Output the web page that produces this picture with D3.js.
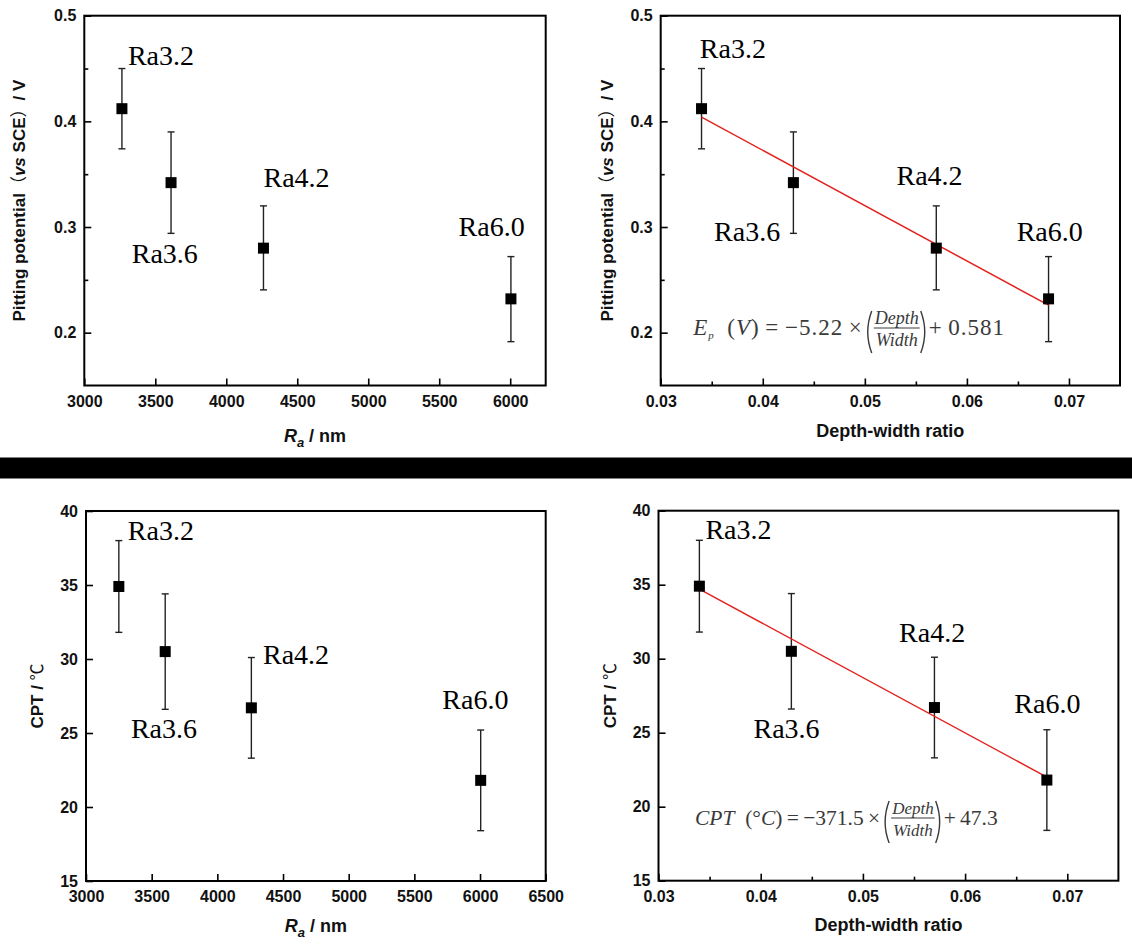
<!DOCTYPE html>
<html><head><meta charset="utf-8">
<script src="https://cdn.jsdelivr.net/npm/d3@7"></script>
<style>body{margin:0;background:#fff} svg{display:block} .lab{font-family:'Liberation Serif','Times New Roman',serif}</style>
</head><body>
<svg id="c" width="1132" height="952"></svg>
<script>
// ---------- data ----------
const pointLabels = ["Ra3.2", "Ra3.6", "Ra4.2", "Ra6.0"];
const raTop = [3265, 3611, 4262, 6005];        // Ra (nm), top-left panel
const raBottom = [3250, 3603, 4259, 6005];     // Ra (nm), bottom-left panel
const depthWidth = [0.034, 0.043, 0.057, 0.068];
const pitting = [0.412, 0.342, 0.280, 0.232];
const pittingHi = [0.450, 0.390, 0.320, 0.272];
const pittingLo = [0.374, 0.294, 0.2405, 0.1915];
const cpt = [34.9, 30.5, 26.7, 21.8];
const cptHi = [38.0, 34.4, 30.1, 25.2];
const cptLo = [31.8, 26.6, 23.3, 18.4];
const fitX = [0.034, 0.068];
const pittingFit = [0.404, 0.226];
const cptFit = [34.7, 22.0];
const raTicksTop = [3000, 3500, 4000, 4500, 5000, 5500, 6000];
const raTicksBottom = [3000, 3500, 4000, 4500, 5000, 5500, 6000, 6500];
const dwTicks = [0.03, 0.04, 0.05, 0.06, 0.07];
const dwMinor = [0.035, 0.045, 0.055, 0.065];
const pitTicks = [0.2, 0.3, 0.4, 0.5];
const pitMinor = [0.25, 0.35, 0.45];
const cptTicks = [15, 20, 25, 30, 35, 40];

// ---------- layout ----------
const svg = d3.select("#c");
svg.append("rect").attr("width", 1132).attr("height", 952).attr("fill", "#fff");
svg.append("rect").attr("x", 0).attr("y", 457.5).attr("width", 1132).attr("height", 21).attr("fill", "#000");

const SANS = "'Liberation Sans', Arial, sans-serif";

const panels = [
  { box: [84.3, 545.7, 15.7, 385.5], xd: [3000, 6250], yd: [0.15, 0.5], xs: raTop, ys: pitting, hi: pittingHi, lo: pittingLo,
    xt: raTicksTop, xm: [], yt: pitTicks, ym: pitMinor, xfmt: d3.format("d"), yfmt: d3.format(".1f"),
    ytitle: "pit", ytx: 25, xtitle: "ra", xty: 442, fit: null,
    labOff: [[6, -43.7], [-39.3, 80.6], [0, -61.6], [-52.3, -63]] },
  { box: [660.7, 1120, 15.7, 385.5], xd: [0.03, 0.075], yd: [0.15, 0.5], xs: depthWidth, ys: pitting, hi: pittingHi, lo: pittingLo,
    xt: dwTicks, xm: dwMinor, yt: pitTicks, ym: pitMinor, xfmt: d3.format(".2f"), yfmt: d3.format(".1f"),
    ytitle: "pit", ytx: 613, xtitle: "dw", xty: 437, fit: pittingFit, eq: "pit",
    labOff: [[-1.7, -50.4], [-79.3, 58], [-39.8, -62.8], [-31.9, -58]] },
  { box: [86, 545.7, 511, 881], xd: [3000, 6500], yd: [15, 40], xs: raBottom, ys: cpt, hi: cptHi, lo: cptLo,
    xt: raTicksBottom, xm: [], yt: cptTicks, ym: [], xfmt: d3.format("d"), yfmt: d3.format("d"),
    ytitle: "cpt", ytx: 43, xtitle: "ra", xty: 932, fit: null,
    labOff: [[9, -46], [-34.3, 86.6], [11.6, -44], [-38.4, -71]] },
  { box: [658.5, 1118.4, 510.7, 880.7], xd: [0.03, 0.075], yd: [15, 40], xs: depthWidth, ys: cpt, hi: cptHi, lo: cptLo,
    xt: dwTicks, xm: dwMinor, yt: cptTicks, ym: [], xfmt: d3.format(".2f"), yfmt: d3.format("d"),
    ytitle: "cpt", ytx: 616, xtitle: "dw", xty: 931, fit: cptFit, eq: "cpt",
    labOff: [[6, -46.7], [-37.9, 86.6], [-35.4, -65.6], [-32.5, -66.7]] }
];

function styleAxis(g) {
  g.select(".domain").remove();
  g.selectAll(".tick line").attr("stroke", "#000").attr("stroke-width", 1.6);
  g.selectAll(".tick text").attr("font-family", SANS).attr("font-size", 16).attr("font-weight", "bold").attr("fill", "#111");
}

function equation(g, x0, base, pre, num, den, post, fs, ffs, ls) {
  const col = "#3a3a3a";
  const t1 = g.append("text").attr("class", "lab").attr("x", x0).attr("y", base)
    .attr("font-size", fs).attr("fill", col).attr("letter-spacing", ls);
  pre.forEach(s => {
    const ts = t1.append("tspan").text(s.t);
    if (s.it) ts.attr("font-style", "italic");
    if (s.size) ts.attr("font-size", s.size);
    if (s.dy) ts.attr("dy", s.dy);
  });
  const w = t1.node().getComputedTextLength();
  const px = x0 + w + 2;
  g.append("path").attr("d", `M${px + 7},${base - 24} Q${px - 1},${base - 3} ${px + 7},${base + 18}`)
    .attr("fill", "none").attr("stroke", col).attr("stroke-width", 1.4);
  const fx = px + 9;
  const nt = g.append("text").attr("class", "lab").attr("font-style", "italic").attr("font-size", ffs).attr("fill", col).text(num);
  const dt = g.append("text").attr("class", "lab").attr("font-style", "italic").attr("font-size", ffs).attr("fill", col).text(den);
  const nw = nt.node().getComputedTextLength(), dw = dt.node().getComputedTextLength();
  const fw = Math.max(nw, dw) + 2;
  nt.attr("x", fx + fw / 2).attr("y", base - 11).attr("text-anchor", "middle");
  dt.attr("x", fx + fw / 2).attr("y", base + 11).attr("text-anchor", "middle");
  g.append("line").attr("x1", fx).attr("x2", fx + fw).attr("y1", base - 7).attr("y2", base - 7)
    .attr("stroke", col).attr("stroke-width", 1);
  const rx = fx + fw + 1;
  g.append("path").attr("d", `M${rx},${base - 24} Q${rx + 8},${base - 3} ${rx},${base + 18}`)
    .attr("fill", "none").attr("stroke", col).attr("stroke-width", 1.4);
  g.append("text").attr("class", "lab").attr("x", rx + 8).attr("y", base)
    .attr("font-size", fs).attr("fill", col).attr("letter-spacing", ls).text(post);
}

panels.forEach(p => {
  const [L, R, T, B] = p.box;
  const x = d3.scaleLinear().domain(p.xd).range([L, R]);
  const y = d3.scaleLinear().domain(p.yd).range([B, T]);
  const g = svg.append("g");

  // axes (ticks inward)
  const gx = g.append("g").attr("transform", `translate(0,${B})`)
    .call(d3.axisBottom(x).tickValues(p.xt).tickFormat(p.xfmt).tickSizeInner(-7).tickSizeOuter(0).tickPadding(10));
  styleAxis(gx);
  if (p.xm.length) {
    const gxm = g.append("g").attr("transform", `translate(0,${B})`)
      .call(d3.axisBottom(x).tickValues(p.xm).tickFormat("").tickSizeInner(-4).tickSizeOuter(0));
    styleAxis(gxm);
  }
  const gy = g.append("g").attr("transform", `translate(${L},0)`)
    .call(d3.axisLeft(y).tickValues(p.yt).tickFormat(p.yfmt).tickSizeInner(-7).tickSizeOuter(0).tickPadding(8));
  styleAxis(gy);
  if (p.ym.length) {
    const gym = g.append("g").attr("transform", `translate(${L},0)`)
      .call(d3.axisLeft(y).tickValues(p.ym).tickFormat("").tickSizeInner(-4).tickSizeOuter(0));
    styleAxis(gym);
  }
  // frame
  g.append("rect").attr("x", L).attr("y", T).attr("width", R - L).attr("height", B - T)
    .attr("fill", "none").attr("stroke", "#000").attr("stroke-width", 2);

  // error bars
  const idx = d3.range(p.xs.length);
  const eb = g.append("g").attr("stroke", "#222").attr("stroke-width", 1.4);
  idx.forEach(i => {
    const cx = x(p.xs[i]);
    eb.append("line").attr("x1", cx).attr("x2", cx).attr("y1", y(p.hi[i])).attr("y2", y(p.lo[i]));
    eb.append("line").attr("x1", cx - 3.5).attr("x2", cx + 3.5).attr("y1", y(p.hi[i])).attr("y2", y(p.hi[i]));
    eb.append("line").attr("x1", cx - 3.5).attr("x2", cx + 3.5).attr("y1", y(p.lo[i])).attr("y2", y(p.lo[i]));
  });

  // fit line
  if (p.fit) {
    g.append("path").datum(d3.zip(fitX, p.fit))
      .attr("d", d3.line().x(d => x(d[0])).y(d => y(d[1])))
      .attr("fill", "none").attr("stroke", "#e3221e").attr("stroke-width", 1.5);
  }

  // markers
  g.append("g").selectAll("rect").data(idx).join("rect")
    .attr("x", i => x(p.xs[i]) - 5.5).attr("y", i => y(p.ys[i]) - 5.5)
    .attr("width", 11).attr("height", 11).attr("fill", "#000");

  // point labels
  g.append("g").selectAll("text").data(idx).join("text")
    .attr("class", "lab")
    .attr("x", i => x(p.xs[i]) + p.labOff[i][0]).attr("y", i => y(p.ys[i]) + p.labOff[i][1])
    .attr("font-size", 28).attr("fill", "#000")
    .text(i => pointLabels[i]);

  // y title
  const cy = (T + B) / 2;
  const yt = g.append("text").attr("transform", `translate(${p.ytx},${cy}) rotate(-90)`)
    .attr("text-anchor", "middle").attr("font-family", SANS).attr("font-size", 17).attr("font-weight", "bold").attr("fill", "#111");
  if (p.ytitle === "pit") {
    yt.append("tspan").text("Pitting potential");
    yt.append("tspan").attr("font-family", "'Noto Sans CJK SC'").attr("font-weight", "normal").text("（");
    yt.append("tspan").attr("font-style", "italic").text("vs");
    yt.append("tspan").text(" SCE");
    yt.append("tspan").attr("font-family", "'Noto Sans CJK SC'").attr("font-weight", "normal").text("）");
    yt.append("tspan").text("/ V");
  } else {
    yt.append("tspan").text("CPT / ");
    yt.append("tspan").attr("font-family", "'Noto Sans CJK SC'").attr("font-weight", "normal").text("℃");
  }

  // x title
  const cxm = (L + R) / 2;
  const xt = g.append("text").attr("x", cxm).attr("y", p.xty).attr("text-anchor", "middle")
    .attr("font-family", SANS).attr("font-size", 18).attr("font-weight", "bold").attr("fill", "#111");
  if (p.xtitle === "ra") {
    xt.append("tspan").attr("font-style", "italic").text("R");
    xt.append("tspan").attr("font-style", "italic").attr("font-size", 13).attr("dy", 5).text("a");
    xt.append("tspan").attr("dy", -5).text(" / nm");
  } else {
    xt.text("Depth-width ratio");
  }

  // regression equations
  if (p.eq === "pit") {
    equation(g, 693.3, 335,
      [{ t: "E", it: 1 }, { t: "p", it: 1, size: 11, dy: 4 }, { t: "\u2002(", dy: -4 }, { t: "V", it: 1 }, { t: ")\u2009=\u2009−5.22\u2009×" }],
      "Depth", "Width", "+\u20090.581", 23, 18, 1.0);
  } else if (p.eq === "cpt") {
    equation(g, 695, 825,
      [{ t: "CPT", it: 1 }, { t: "\u2002(°" }, { t: "C", it: 1 }, { t: ")\u2009=\u2009−371.5\u2009×" }],
      "Depth", "Width", "+\u200947.3", 21.5, 17, 0);
  }
});
</script>
</body></html>
